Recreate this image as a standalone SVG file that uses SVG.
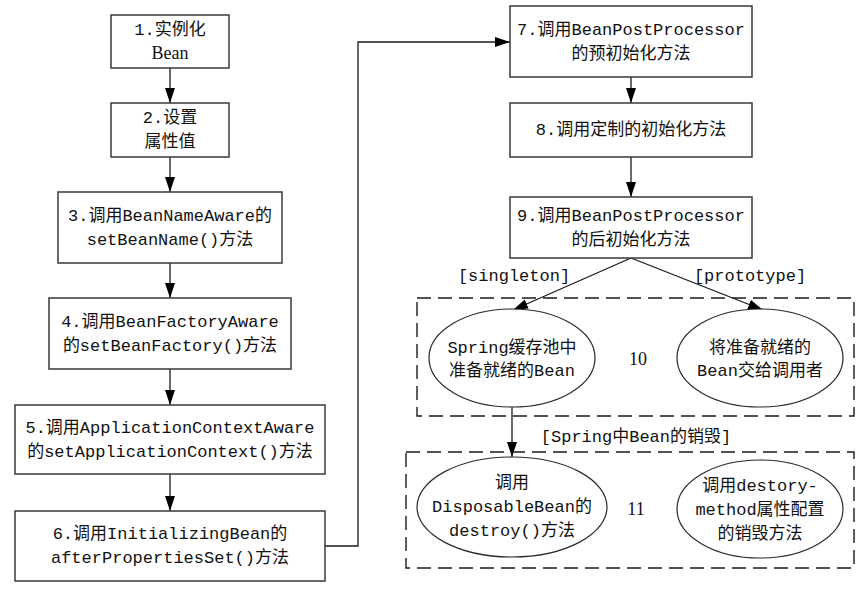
<svg xmlns="http://www.w3.org/2000/svg" width="860" height="596" viewBox="0 0 860 596">
<style>
.box{fill:#fff;stroke:#3a3a3a;stroke-width:1.5}
.ell{fill:#fff;stroke:#2a2a2a;stroke-width:1.2}
.dash{fill:none;stroke:#1a1a1a;stroke-width:1.4;stroke-dasharray:14,7}
.edge{fill:none;stroke:#1a1a1a;stroke-width:1.3}
text{font-family:"Liberation Mono","Noto Sans CJK SC",monospace;font-size:17px;fill:#111;text-anchor:middle;dominant-baseline:central}
.sf{font-family:"Liberation Serif","Noto Sans CJK SC",serif;font-size:18px}
</style>
<defs>
<marker id="ah" markerUnits="userSpaceOnUse" markerWidth="15" markerHeight="10" refX="15" refY="5" orient="auto">
<path d="M0,0 L15,5 L0,10 z" fill="#000"/>
</marker>
</defs>
<g id="connectors">
<line class="edge" x1="170" y1="68" x2="170" y2="103" marker-end="url(#ah)"/>
<line class="edge" x1="170" y1="157" x2="170" y2="192" marker-end="url(#ah)"/>
<line class="edge" x1="170" y1="263" x2="170" y2="298" marker-end="url(#ah)"/>
<line class="edge" x1="170" y1="369" x2="170" y2="405" marker-end="url(#ah)"/>
<line class="edge" x1="170" y1="474" x2="170" y2="511" marker-end="url(#ah)"/>
<polyline class="edge" points="325,546 358,546 358,42 510,42" marker-end="url(#ah)"/>
<line class="edge" x1="631" y1="77" x2="631" y2="103" marker-end="url(#ah)"/>
<line class="edge" x1="631" y1="157" x2="631" y2="197" marker-end="url(#ah)"/>
<line class="edge" x1="631" y1="258" x2="513" y2="310" marker-end="url(#ah)"/>
<line class="edge" x1="631" y1="258" x2="763" y2="310" marker-end="url(#ah)"/>
<line class="edge" x1="512" y1="407" x2="512" y2="457" marker-end="url(#ah)"/>
<text x="514" y="276">[singleton]</text>
<text x="750" y="276">[prototype]</text>
<text x="636" y="437">[Spring中Bean的销毁]</text>
</g>
<g id="cluster10">
<rect class="dash" x="417" y="298" width="437" height="118"/>
<text class="sf" x="638" y="359">10</text>
</g>
<g id="cluster11">
<rect class="dash" x="406" y="452" width="448" height="116"/>
<text class="sf" x="636" y="509">11</text>
</g>
<g id="n1"><rect class="box" x="111" y="15" width="118" height="53"/><text x="170" y="30">1.实例化</text><text class="sf" x="170" y="53">Bean</text></g>
<g id="n2"><rect class="box" x="111" y="103" width="118" height="54"/><text x="170" y="118">2.设置</text><text x="170" y="142">属性值</text></g>
<g id="n3"><rect class="box" x="58" y="192" width="224" height="71"/><text x="170" y="216">3.调用BeanNameAware的</text><text x="170" y="240">setBeanName()方法</text></g>
<g id="n4"><rect class="box" x="49" y="298" width="242" height="71"/><text x="170" y="322">4.调用BeanFactoryAware</text><text x="170" y="346">的setBeanFactory()方法</text></g>
<g id="n5"><rect class="box" x="15" y="405" width="310" height="69"/><text x="170" y="428">5.调用ApplicationContextAware</text><text x="170" y="452">的setApplicationContext()方法</text></g>
<g id="n6"><rect class="box" x="15" y="511" width="310" height="70"/><text x="170" y="534">6.调用InitializingBean的</text><text x="170" y="558">afterPropertiesSet()方法</text></g>
<g id="n7"><rect class="box" x="510" y="6" width="242" height="71"/><text x="631" y="30">7.调用BeanPostProcessor</text><text x="631" y="54">的预初始化方法</text></g>
<g id="n8"><rect class="box" x="510" y="103" width="242" height="54"/><text x="631" y="130">8.调用定制的初始化方法</text></g>
<g id="n9"><rect class="box" x="510" y="197" width="242" height="61"/><text x="631" y="216">9.调用BeanPostProcessor</text><text x="631" y="240">的后初始化方法</text></g>
<g id="e10a"><ellipse class="ell" cx="512" cy="358" rx="83" ry="49"/><text x="512" y="348">Spring缓存池中</text><text x="512" y="371">准备就绪的Bean</text></g>
<g id="e10b"><ellipse class="ell" cx="760" cy="358" rx="83" ry="49"/><text x="760" y="348">将准备就绪的</text><text x="760" y="371">Bean交给调用者</text></g>
<g id="e11a"><ellipse class="ell" cx="512" cy="507" rx="95" ry="50"/><text x="512" y="483">调用</text><text x="512" y="507">DisposableBean的</text><text x="512" y="531">destroy()方法</text></g>
<g id="e11b"><ellipse class="ell" cx="760" cy="509" rx="83" ry="49"/><text x="760" y="486">调用destory-</text><text x="760" y="510">method属性配置</text><text x="760" y="534">的销毁方法</text></g>
</svg>
